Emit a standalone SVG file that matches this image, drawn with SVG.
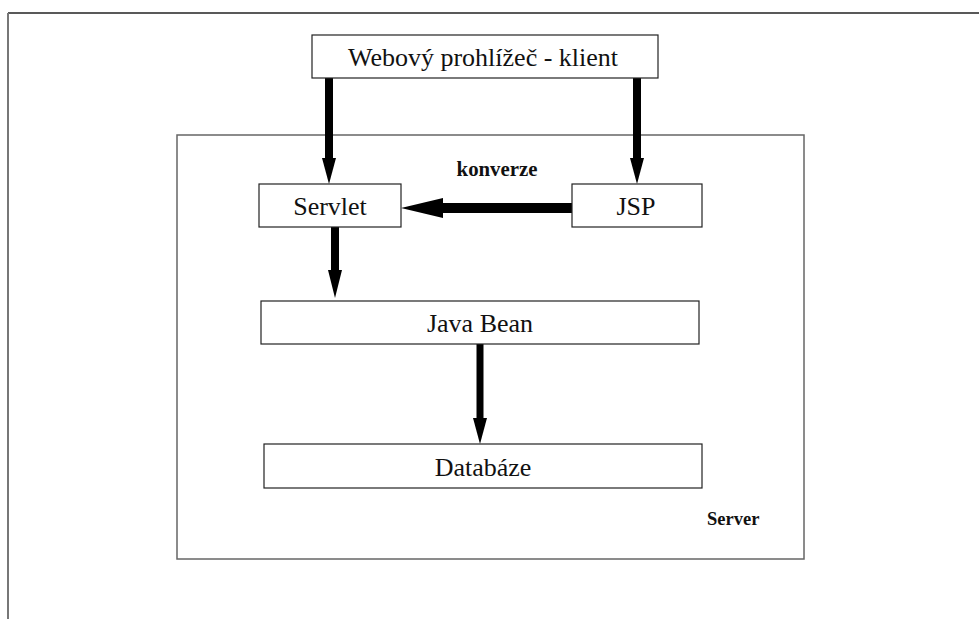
<svg xmlns="http://www.w3.org/2000/svg" width="979" height="619" viewBox="0 0 979 619">
  <style>
    .box { fill: #ffffff; stroke: #222222; stroke-width: 1.2; }
    .frame { fill: none; stroke: #666666; stroke-width: 1.5; }
    .lbl { font-family: "Liberation Serif", "Times New Roman", serif; font-size: 26px; fill: #111111; text-anchor: middle; }
    .note { font-family: "Liberation Serif", "Times New Roman", serif; font-weight: bold; fill: #111111; }
    .shaft { stroke: #000000; fill: none; }
    .head { fill: #000000; }
  </style>

  <rect width="979" height="619" fill="#ffffff"/>

  <!-- page frame -->
  <g id="page-frame">
    <line x1="8" y1="13" x2="979" y2="13" stroke="#222222" stroke-width="1.5"/>
    <line x1="8" y1="13" x2="8" y2="619" stroke="#777777" stroke-width="2"/>
  </g>

  <!-- server container -->
  <g id="server">
    <rect class="frame" x="177" y="135" width="627" height="424"/>
    <text class="note" x="707" y="525" font-size="18.5">Server</text>
  </g>

  <!-- connectors -->
  <g id="connectors">
    <!-- client -> Servlet -->
    <line class="shaft" x1="329" y1="78" x2="329" y2="160" stroke-width="8"/>
    <polygon class="head" points="322,158 336,158 329,184"/>
    <!-- client -> JSP -->
    <line class="shaft" x1="637" y1="78" x2="637" y2="160" stroke-width="8"/>
    <polygon class="head" points="630,158 644,158 637,184"/>
    <!-- JSP -> Servlet (konverze) -->
    <line class="shaft" x1="572" y1="208" x2="440" y2="208" stroke-width="10"/>
    <polygon class="head" points="443,198 443,218 401,208"/>
    <text class="note" x="497" y="176" font-size="20.8" text-anchor="middle">konverze</text>
    <!-- Servlet -> Java Bean -->
    <line class="shaft" x1="335" y1="227" x2="335" y2="272" stroke-width="8"/>
    <polygon class="head" points="328,270 342,270 335,298"/>
    <!-- Java Bean -> Databáze -->
    <line class="shaft" x1="480" y1="344" x2="480" y2="420" stroke-width="7"/>
    <polygon class="head" points="473,418 487,418 480,444"/>
  </g>

  <g id="client">
    <rect class="box" x="312" y="35" width="346" height="43"/>
    <text class="lbl" x="483" y="66" font-size="26.7">Webový prohlížeč - klient</text>
  </g>

  <g id="servlet">
    <rect class="box" x="259" y="184" width="142" height="43"/>
    <text class="lbl" x="330" y="215">Servlet</text>
  </g>

  <g id="jsp">
    <rect class="box" x="572" y="184" width="130" height="43"/>
    <text class="lbl" x="636" y="215">JSP</text>
  </g>

  <g id="java-bean">
    <rect class="box" x="261" y="301" width="438" height="43"/>
    <text class="lbl" x="480" y="332">Java Bean</text>
  </g>

  <g id="database">
    <rect class="box" x="264" y="444" width="438" height="44"/>
    <text class="lbl" x="483" y="476">Databáze</text>
  </g>
</svg>
